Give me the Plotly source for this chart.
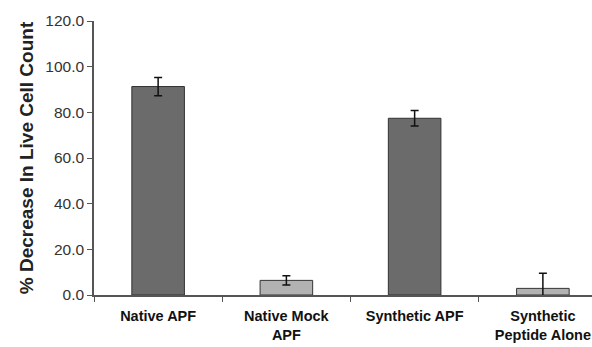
import plotly.graph_objects as go

categories = ["Native APF", "Native Mock<br>APF", "Synthetic APF", "Synthetic<br>Peptide Alone"]
values = [91.3, 6.4, 77.4, 2.9]
errors = [4.0, 2.0, 3.4, 6.6]
colors = ["#6b6b6b", "#b2b2b2", "#6b6b6b", "#b2b2b2"]
y_ticks = [0, 20, 40, 60, 80, 100, 120]
y_tick_labels = ["0.0", "20.0", "40.0", "60.0", "80.0", "100.0", "120.0"]

fig = go.Figure(go.Bar(
    x=categories, y=values,
    marker=dict(color=colors, line=dict(color="#333333", width=1)),
    width=0.41,
    error_y=dict(type="data", array=errors, color="#111111", thickness=1.5, width=4),
))

fig.update_layout(
    width=592, height=347,
    margin=dict(l=94, r=0, t=21, b=52),
    paper_bgcolor="white", plot_bgcolor="white",
    showlegend=False,
    font=dict(family="Liberation Sans, Arial, sans-serif", color="#222222"),
)
fig.update_xaxes(
    type="category", range=[-0.5, 3.383], automargin=False,
    showline=True, linecolor="#555555", linewidth=1.5,
    ticks="outside", tickson="boundaries", ticklen=5, tickcolor="#555555",
    tickfont=dict(size=14.5, color="#111111", family="Liberation Sans, Arial, sans-serif"),
    ticklabelstandoff=7,
    showgrid=False,
)
fig.update_xaxes(tickprefix="<b>", ticksuffix="</b>")
fig.update_yaxes(
    range=[0, 120], tickvals=y_ticks, ticktext=y_tick_labels, automargin=False,
    showline=True, linecolor="#555555", linewidth=1.5,
    ticks="outside", ticklen=5, tickcolor="#555555",
    tickfont=dict(size=15.5, color="#333333"),
    showgrid=False, zeroline=False,
    title=dict(text="<b>% Decrease In Live Cell Count</b>", font=dict(size=19, color="#222222"), standoff=7),
)

fig.write_html("out.html", config={"displayModeBar": False},
               post_script="document.body.style.margin='0';")
